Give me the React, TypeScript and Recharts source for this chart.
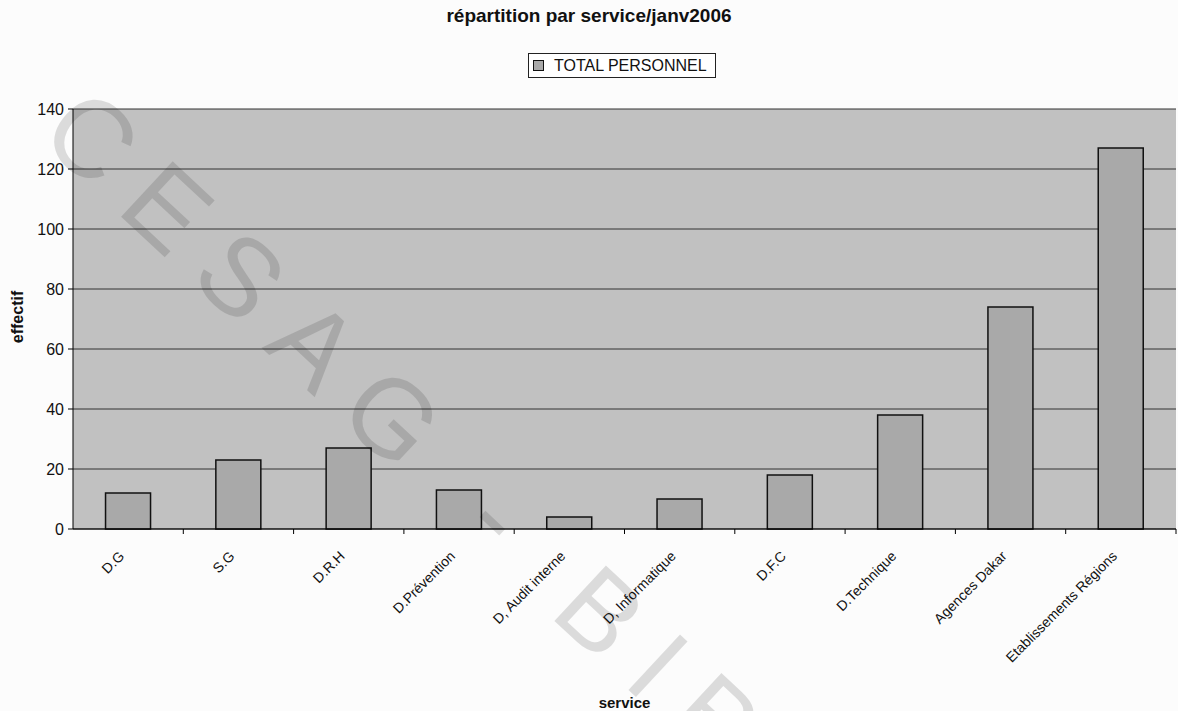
import React from "react";
import { Bar, BarChart, CartesianGrid, Legend, XAxis, YAxis } from "recharts";

const services = [
  "D.G",
  "S.G",
  "D.R.H",
  "D.Prévention",
  "D, Audit interne",
  "D, Informatique",
  "D.F.C",
  "D.Technique",
  "Agences Dakar",
  "Etablissements Régions",
];
const totalPersonnel = [12, 23, 27, 13, 4, 10, 18, 38, 74, 127];
const yTicks = [0, 20, 40, 60, 80, 100, 120, 140];

const seriesName = "TOTAL PERSONNEL";
const title = "répartition par service/janv2006";
const watermark = "CESAG - BIBL";

const FONT = '"Liberation Sans", Arial, sans-serif';
const PLOT_BG = "#c1c1c1";
const BAR_FILL = "#a9a9a9";

const rows = services.map((service, i) => ({ service, total: totalPersonnel[i] }));

function ServiceTick(props: any) {
  const { x, y, payload } = props;
  const half = 55.15; // half a category, where Excel puts the tick marks
  return (
    <g>
      <line x1={x + half} y1={y} x2={x + half} y2={y + 5} stroke="#000" />
      <text
        x={x - 3}
        y={y + 28}
        transform={`rotate(-45, ${x - 3}, ${y + 28})`}
        textAnchor="end"
        fontSize={14}
        fontFamily={FONT}
        fill="#111"
      >
        {payload.value}
      </text>
    </g>
  );
}

function LegendBox() {
  return (
    <div
      style={{
        boxSizing: "border-box",
        width: 188,
        height: 25,
        border: "1px solid #222",
        background: "#fff",
        display: "flex",
        alignItems: "center",
        fontFamily: FONT,
        fontSize: 16,
        color: "#111",
        whiteSpace: "nowrap",
      }}
    >
      <span
        style={{
          display: "inline-block",
          width: 9,
          height: 9,
          marginLeft: 4,
          marginRight: 10,
          background: BAR_FILL,
          border: "1px solid #111",
        }}
      />
      {seriesName}
    </div>
  );
}

export default function App() {
  return (
    <div
      style={{
        position: "absolute",
        left: 0,
        top: 0,
        width: 1178,
        height: 711,
        overflow: "hidden",
        background: "#fcfcfc",
      }}
    >
      <div
        style={{
          position: "absolute",
          left: 0,
          top: 5,
          width: 1178,
          textAlign: "center",
          fontFamily: FONT,
          fontWeight: "bold",
          fontSize: 19,
          color: "#111",
        }}
      >
        {title}
      </div>
      <BarChart
        width={1178}
        height={711}
        data={rows}
        margin={{ top: 109, right: 2, bottom: 32, left: 0 }}
        barCategoryGap="29.5%"
        style={{ fontFamily: FONT }}
      >
        <CartesianGrid vertical={false} stroke="#333" fill={PLOT_BG} fillOpacity={1} />
        <XAxis
          dataKey="service"
          interval={0}
          height={150}
          tickSize={0}
          tickMargin={0}
          axisLine={{ stroke: "#000" }}
          tickLine={false}
          tick={<ServiceTick />}
          label={{
            content: (p: any) => {
              const vb = p.viewBox;
              return (
                <text
                  x={vb.x + vb.width / 2}
                  y={vb.y + vb.height + 29}
                  textAnchor="middle"
                  fontFamily={FONT}
                  fontWeight="bold"
                  fontSize={15}
                  fill="#111"
                >
                  service
                </text>
              );
            },
          }}
        />
        <YAxis
          width={73}
          domain={[0, 140]}
          ticks={yTicks}
          interval={0}
          tickSize={5}
          tickMargin={4}
          axisLine={{ stroke: "#000" }}
          tickLine={{ stroke: "#000" }}
          tick={{ fontSize: 16, fill: "#111", fontFamily: FONT }}
          label={{
            content: (p: any) => {
              const vb = p.viewBox;
              const cx = vb.x + 17;
              const cy = vb.y + vb.height / 2 - 2;
              return (
                <text
                  x={cx}
                  y={cy}
                  transform={`rotate(-90, ${cx}, ${cy})`}
                  textAnchor="middle"
                  dominantBaseline="central"
                  fontFamily={FONT}
                  fontWeight="bold"
                  fontSize={16}
                  fill="#111"
                >
                  effectif
                </text>
              );
            },
          }}
        />
        <Legend
          layout="horizontal"
          align="center"
          verticalAlign="middle"
          wrapperStyle={{ left: 528, top: 53, width: 188, height: 25 }}
          content={() => <LegendBox />}
        />
        <Bar
          dataKey="total"
          name={seriesName}
          fill={BAR_FILL}
          stroke="#111"
          strokeWidth={1.5}
          isAnimationActive={false}
        />
      </BarChart>
      <div
        style={{
          position: "absolute",
          left: 100,
          top: 70,
          transform: "rotate(43deg)",
          transformOrigin: "0 0",
          fontFamily: FONT,
          fontSize: 110,
          letterSpacing: 27,
          color: "rgba(0,0,0,0.13)",
          whiteSpace: "nowrap",
          pointerEvents: "none",
          lineHeight: 1,
        }}
      >
        {watermark}
      </div>
    </div>
  );
}
